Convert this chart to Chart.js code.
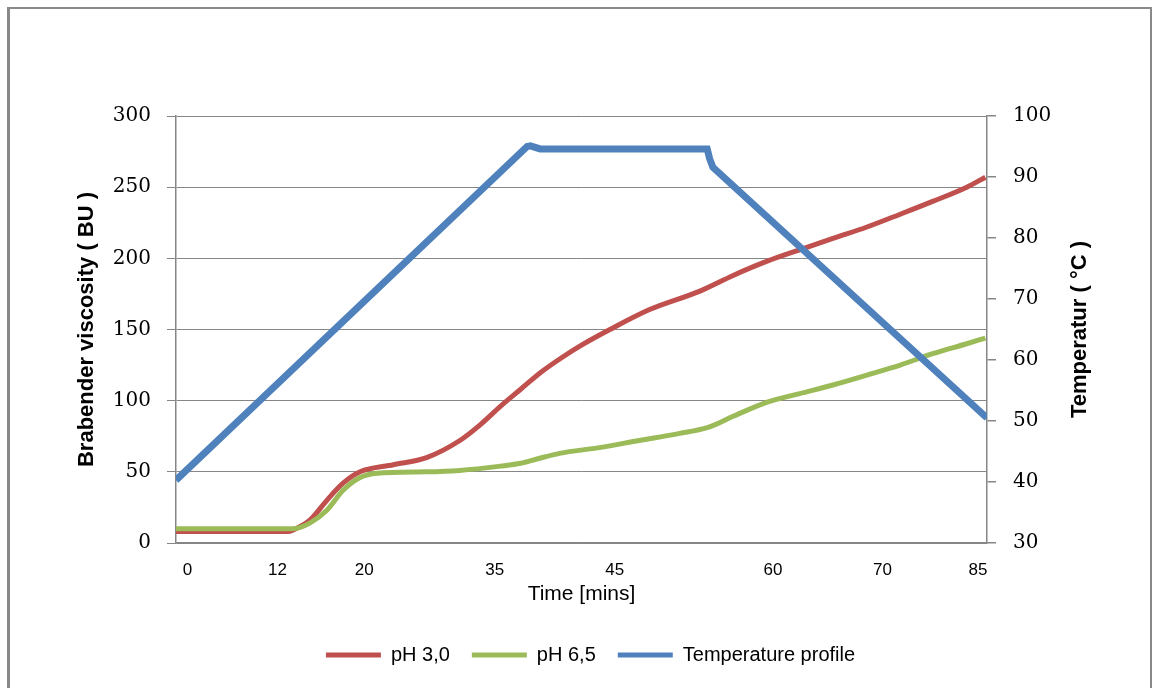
<!DOCTYPE html>
<html lang="en">
<head>
  <meta charset="UTF-8" />
  <title>Brabender viscosity</title>
  <script src="https://cdn.jsdelivr.net/npm/chart.js"></script>
  <style>
    html, body { margin: 0; padding: 0; background: #fff; overflow: hidden; }
    .frame {
      position: absolute; left: 7px; top: 7px; width: 1140px; height: 720px;
      border-top: 2px solid #898989; border-left: 3px solid #898989; border-right: 2px solid #898989;
      pointer-events: none;
    }
    canvas { position: absolute; left: 0; top: 0; }
  </style>
</head>
<body>
  <canvas id="chart" width="1158" height="688"></canvas>
  <div class="frame"></div>

<script>
  // x runs along the category axis (0 = left edge, 100 = right edge)
  const xTicks = [1.4, 12.5, 23.2, 39.3, 54.1, 73.6, 87.1, 98.9];
  const xLabels = ['0', '12', '20', '35', '45', '60', '70', '85'];

  const ph30X = [0, 13.8, 14.4, 16.5, 18.6, 20.6, 22.7, 26.8, 30.9, 35.0, 37.5, 40.0, 42.5, 45.0, 47.5, 50.0, 53.5, 58.4, 64.6, 68.7, 72.9, 76.9, 81.0, 85.2, 89.3, 93.3, 97.5, 99.8];
  const ph30Y = [8, 8, 9, 16, 30, 42, 50, 55, 60, 72, 83, 96, 108, 120, 130, 139, 150, 164, 177, 188, 198, 206, 214, 222, 231, 240, 250, 257];

  const ph65X = [0, 14.4, 16.5, 18.6, 20.6, 22.7, 24.8, 30.9, 35.0, 40.0, 42.5, 44.5, 47.3, 52.2, 57.1, 62.1, 65.5, 68.7, 72.9, 76.9, 81.0, 85.2, 89.3, 93.3, 97.5, 99.8];
  const ph65Y = [10, 10, 14, 23, 37, 46, 49, 50, 51, 54, 56, 59, 63, 67, 72, 77, 81, 89, 99, 105, 111, 118, 125, 133, 140, 144];

  const tempX = [0, 43.3, 43.7, 44.9, 65.5, 65.8, 66.2, 100];
  const tempY = [40.3, 95, 95.1, 94.6, 94.6, 93, 91.6, 50.5];

  const pts = (xs, ys) => xs.map((x, i) => ({ x: x, y: ys[i] }));

  const sans = "'Liberation Sans', Arial, sans-serif";
  const serif = "'DejaVu Serif', 'Liberation Serif', serif";
  const gridGray = '#868686';

  // the right axis title reads bottom-to-top like the left one
  const rightTitle = {
    id: 'rightTitle',
    afterDraw(chart) {
      const { ctx, chartArea } = chart;
      const scale = chart.scales.y1;
      ctx.save();
      ctx.translate(scale.right - 41, (chartArea.top + chartArea.bottom) / 2);
      ctx.rotate(-Math.PI / 2);
      ctx.font = 'bold 22px ' + sans;
      ctx.fillStyle = '#000';
      ctx.textAlign = 'center';
      ctx.textBaseline = 'middle';
      ctx.fillText('Temperatur ( °C )', 0, 0);
      ctx.restore();
    }
  };

  new Chart(document.getElementById('chart'), {
    type: 'line',
    data: {
      datasets: [
        {
          label: 'pH 3,0',
          data: pts(ph30X, ph30Y),
          borderColor: '#C0504D',
          backgroundColor: '#C0504D',
          borderWidth: 5,
          cubicInterpolationMode: 'monotone',
          yAxisID: 'y',
          order: 3
        },
        {
          label: 'pH 6,5',
          data: pts(ph65X, ph65Y),
          borderColor: '#9BBB59',
          backgroundColor: '#9BBB59',
          borderWidth: 5,
          cubicInterpolationMode: 'monotone',
          yAxisID: 'y',
          order: 2
        },
        {
          label: 'Temperature profile',
          data: pts(tempX, tempY),
          borderColor: '#4F81BD',
          backgroundColor: '#4F81BD',
          borderWidth: 7,
          tension: 0,
          yAxisID: 'y1',
          order: 1
        }
      ]
    },
    plugins: [rightTitle],
    options: {
      responsive: false,
      animation: false,
      devicePixelRatio: 1,
      elements: { point: { radius: 0, hoverRadius: 0 } },
      layout: { padding: { left: 60, right: 37, top: 116, bottom: 13 } },
      plugins: {
        tooltip: { enabled: false },
        legend: {
          position: 'bottom',
          labels: {
            boxWidth: 55,
            boxHeight: 5,
            padding: 22,
            color: '#000',
            font: { family: sans, size: 20 },
            sort: (a, b) => a.datasetIndex - b.datasetIndex,
            generateLabels: chart => Chart.defaults.plugins.legend.labels.generateLabels(chart)
              .map(l => ({ ...l, lineWidth: 0 }))
          }
        }
      },
      scales: {
        x: {
          type: 'linear',
          min: 0,
          max: 100,
          afterBuildTicks: s => { s.ticks = xTicks.map(v => ({ value: v })); },
          afterFit: s => { s.height = 80; },
          grid: { display: false, drawTicks: false },
          border: { display: true, color: gridGray, width: 1.5 },
          ticks: {
            autoSkip: false,
            maxRotation: 0,
            padding: 17,
            color: '#000',
            font: { family: sans, size: 17 },
            callback: (v, i) => xLabels[i]
          },
          title: {
            display: true,
            text: 'Time [mins]',
            color: '#000',
            font: { family: sans, size: 21 },
            padding: { top: 0, bottom: 16 }
          }
        },
        y: {
          position: 'left',
          min: 0,
          max: 300,
          afterFit: s => { s.width = 116; },
          grid: { color: gridGray, lineWidth: 1, tickLength: 9 },
          border: { display: true, color: gridGray, width: 1.5 },
          ticks: {
            stepSize: 50,
            padding: 16,
            color: '#000',
            font: { family: serif, size: 20 }
          },
          title: {
            display: true,
            text: 'Brabender viscosity ( BU )',
            color: '#000',
            font: { family: sans, size: 22, weight: 'bold' },
            padding: { top: 14, bottom: 0 }
          }
        },
        y1: {
          position: 'right',
          min: 30,
          max: 100,
          afterFit: s => { s.width = 134; },
          grid: { drawOnChartArea: false, color: gridGray, lineWidth: 1.5, tickLength: 9 },
          border: { display: true, color: gridGray, width: 1.5 },
          ticks: {
            stepSize: 10,
            padding: 17,
            color: '#000',
            font: { family: serif, size: 20 }
          },
          title: { display: false }
        }
      }
    }
  });
</script>
</body>
</html>
